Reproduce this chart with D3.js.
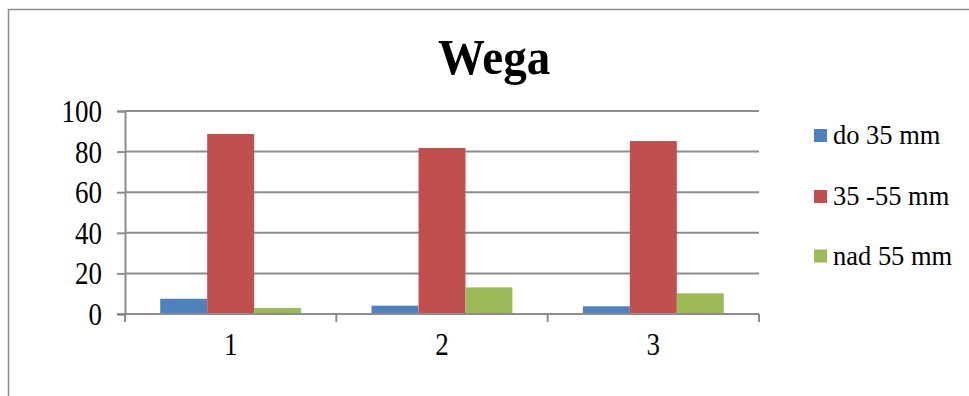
<!DOCTYPE html>
<html>
<head>
<meta charset="utf-8">
<script src="https://cdn.jsdelivr.net/npm/d3@7/dist/d3.min.js"></script>
<style>
  html, body { margin: 0; padding: 0; background: #fff; }
  svg { display: block; }
</style>
</head>
<body>
<svg id="chart" width="969" height="396"></svg>
<script>
// Share of fruit size classes for "Wega", three samples
const categories = ["1", "2", "3"];
const seriesNames = ["do 35 mm", "35 -55 mm", "nad 55 mm"];
const seriesColors = ["#4F81BD", "#C0504D", "#9BBB59"];
const small = [7.5, 4.1, 3.8];
const medium = [88.7, 81.8, 85.2];
const large = [3.0, 13.1, 10.2];
const yTicks = [0, 20, 40, 60, 80, 100];
const title = "Wega";

const seriesValues = [small, medium, large];
const FONT = "'Liberation Serif', 'Times New Roman', Times, serif";

const svg = d3.select("#chart");
const W = 969, H = 396;

// outer chart frame (top and left edges visible)
svg.append("rect")
  .attr("x", 8.5).attr("y", 9.5)
  .attr("width", W + 10).attr("height", H + 10)
  .attr("fill", "none").attr("stroke", "#8a8a8a").attr("stroke-width", 1.5);

const plot = { left: 125, right: 759, top: 111, bottom: 314 };

const x = d3.scaleBand().domain(categories).range([plot.left, plot.right]).paddingInner(0).paddingOuter(0);
// gap of 1.5 bar widths between clusters, split on both sides
const xInner = d3.scaleBand().domain(d3.range(seriesNames.length))
  .range([0, x.bandwidth()]).paddingInner(0).paddingOuter(0.75);
const y = d3.scaleLinear().domain([0, 100]).range([plot.bottom, plot.top]);

const gridColor = "#8c8c8c";

// horizontal gridlines
svg.append("g").selectAll("line").data(yTicks.filter(d => d > 0)).join("line")
  .attr("x1", plot.left).attr("x2", plot.right)
  .attr("y1", d => y(d)).attr("y2", d => y(d))
  .attr("stroke", gridColor).attr("stroke-width", 2);

// bars
const groups = svg.append("g").selectAll("g").data(seriesValues).join("g")
  .attr("fill", (d, i) => seriesColors[i]);
groups.each(function (vals, si) {
  d3.select(this).selectAll("rect").data(vals).join("rect")
    .attr("x", (v, ci) => x(categories[ci]) + xInner(si))
    .attr("width", xInner.bandwidth())
    .attr("y", v => y(v))
    .attr("height", v => y(0) - y(v));
});

// y axis; labels are drawn slightly tall, as in the original document
const yAxis = svg.append("g").attr("transform", `translate(${plot.left},0)`)
  .call(d3.axisLeft(y).tickValues(yTicks).tickSize(8).tickFormat(d3.format("d")));
yAxis.attr("font-family", null).attr("font-size", null);
yAxis.select(".domain").attr("stroke", gridColor).attr("stroke-width", 2);
yAxis.selectAll(".tick line").attr("stroke", gridColor).attr("stroke-width", 2);
yAxis.selectAll(".tick text")
  .attr("x", null).attr("dy", null).attr("y", null)
  .attr("transform", "translate(-23,10.5) scale(1,1.15)")
  .style("font-family", FONT).style("font-size", "27px")
  .attr("fill", "#000");

// x axis with ticks on category boundaries
const xAxis = svg.append("g").attr("transform", `translate(0,${plot.bottom})`)
  .call(d3.axisBottom(x).tickSize(0));
xAxis.attr("font-family", null).attr("font-size", null);
xAxis.select(".domain").remove();
xAxis.selectAll(".tick text")
  .attr("y", null).attr("dy", null)
  .attr("transform", "translate(0,41) scale(1,1.15)")
  .style("font-family", FONT).style("font-size", "27px")
  .attr("fill", "#000");
svg.append("line")
  .attr("x1", plot.left - 8).attr("x2", plot.right)
  .attr("y1", plot.bottom).attr("y2", plot.bottom)
  .attr("stroke", gridColor).attr("stroke-width", 2);
const bounds = categories.map(c => x(c)).concat([plot.right]);
svg.append("g").selectAll("line").data(bounds).join("line")
  .attr("x1", d => d).attr("x2", d => d)
  .attr("y1", plot.bottom).attr("y2", plot.bottom + 8)
  .attr("stroke", gridColor).attr("stroke-width", 2);

// title
svg.append("text")
  .attr("transform", "translate(494,74) scale(1,1.06)")
  .attr("text-anchor", "middle")
  .style("font-family", FONT).style("font-size", "47px").style("font-weight", "bold")
  .text(title);

// legend
const legendY = [135.5, 196.5, 256];
const legend = svg.append("g").selectAll("g").data(seriesNames).join("g")
  .attr("transform", (d, i) => `translate(814,${legendY[i]})`);
legend.append("rect")
  .attr("x", 0).attr("y", -6.5).attr("width", 13).attr("height", 13)
  .attr("fill", (d, i) => seriesColors[i]);
legend.append("text")
  .attr("transform", "translate(19,8.5) scale(1,1.07)")
  .style("font-family", FONT).style("font-size", "26.5px")
  .text(d => d);
</script>
</body>
</html>
